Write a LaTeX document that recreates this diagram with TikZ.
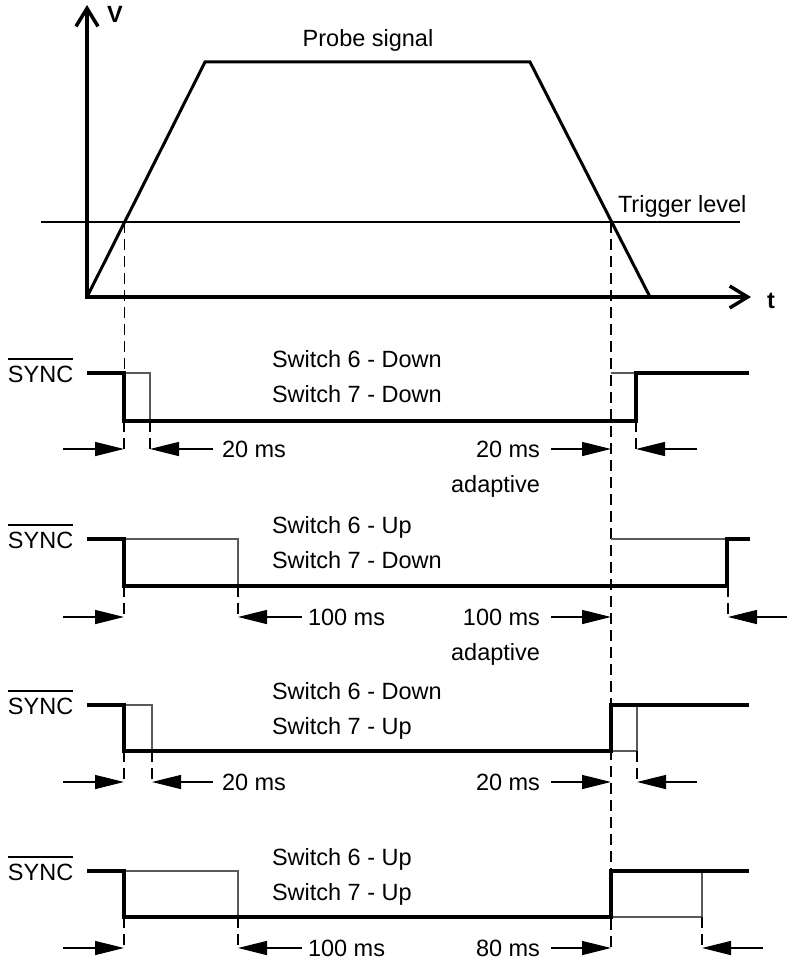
\documentclass[tikz,border=0pt]{standalone}
\usepackage{fontspec}
\setmainfont{Liberation Sans}
\usetikzlibrary{arrows.meta}
\begin{document}
\begin{tikzpicture}[x=1pt,y=-1pt,
  every node/.style={inner sep=0pt,outer sep=0pt,font=\fontsize{23.5}{28}\selectfont},
  axisline/.style={line width=4pt,-{Straight Barb[length=18pt,width=22pt,line width=3.5pt]}},
  probeline/.style={line width=3pt,line join=miter},
  thinline/.style={line width=1.3pt},
  boxline/.style={line width=1.1pt,black!65},
  sigline/.style={line width=3.5pt,line join=miter},
  dsh/.style={line width=1.5pt,dash pattern=on 11pt off 6pt},
  dimarr/.style={line width=1.3pt,-{Triangle[length=29pt,width=14pt]}},
  ovl/.style={line width=1.3pt},
  lbl/.style={anchor=base west},
  rlbl/.style={anchor=base east}]
\fill[white] (0,0) rectangle (787,960);
\useasboundingbox (0,0) rectangle (787,960);

% ---------- probe signal plot ----------
\coordinate (O) at (87,297);
\coordinate (Vtop) at (87,5);
\coordinate (Tend) at (751,297);
\coordinate (P1) at (205,62);
\coordinate (P2) at (530,62);
\coordinate (P3) at (650,297);
\coordinate (TL1) at (41,222);
\coordinate (TL2) at (740,222);
\coordinate (X1) at (124.5,222);
\coordinate (X2) at (611,222);

\draw[thinline] (TL1) -- (TL2);
\draw[probeline] (O) -- (P1) -- (P2) -- (P3);
\draw[axisline,line cap=rect] (O) -- (Vtop);
\draw[axisline,line cap=rect] (O) -- (Tend);

\node[anchor=base,font=\fontsize{23.5}{28}\selectfont\bfseries] (V) at (115,23) {V};
\node[anchor=base,font=\fontsize{23.5}{28}\selectfont\bfseries] (t) at (771,308) {t};
\node[anchor=base] (probe) at (368,47) {Probe signal};
\node[lbl] (trig) at (618,212) {Trigger level};

% long dashed markers
\coordinate (D1a) at (124.5,373);
\coordinate (D2b) at (611,948);
\draw[dsh] (X1) -- (D1a);
\draw[dsh] (X2) -- (D2b);

% ---------- row 1 : Switch 6 Down, Switch 7 Down ----------
\draw[boxline] (124,373) -- (150,373) -- (150,421);
\draw[boxline] (611,373) -- (636,373);
\draw[dsh] (124,421) -- (124,449);
\draw[dsh] (150,421) -- (150,449);
\draw[dsh] (636,421) -- (636,449);
\draw[sigline] (87,373) -- (124,373) -- (124,421) -- (636,421) -- (636,373) -- (749,373);
\path (63,449) coordinate (r1a) (124,449) coordinate (r1b) (213,449) coordinate (r1c)
      (150,449) coordinate (r1d) (551,449) coordinate (r1e) (611,449) coordinate (r1f)
      (697,449) coordinate (r1g) (636,449) coordinate (r1h);
\draw[dimarr] (r1a) -- (r1b);
\draw[dimarr] (r1c) -- (r1d);
\draw[dimarr] (r1e) -- (r1f);
\draw[dimarr] (r1g) -- (r1h);
\node[lbl] (s1) at (8,382) {SYNC};
\draw[ovl] ([yshift=6.5pt]s1.north west) -- ([yshift=6.5pt]s1.north east);
\node[lbl] (w1a) at (272,367) {Switch 6 - Down};
\node[lbl] (w1b) at (272,402) {Switch 7 - Down};
\node[lbl] (m1a) at (222,457) {20 ms};
\node[rlbl] (m1b) at (540,457) {20 ms};
\node[rlbl] (ad1) at (540,492) {adaptive};

% ---------- row 2 : Switch 6 Up, Switch 7 Down ----------
\draw[boxline] (124,539) -- (238,539) -- (238,586);
\draw[boxline] (611,539) -- (727,539);
\draw[dsh] (124,586) -- (124,617);
\draw[dsh] (238,586) -- (238,617);
\draw[dsh] (728,586) -- (728,617);
\draw[sigline] (87,539) -- (124,539) -- (124,586) -- (727,586) -- (727,539) -- (750,539);
\path (63,617) coordinate (r2a) (124,617) coordinate (r2b) (302,617) coordinate (r2c)
      (238,617) coordinate (r2d) (551,617) coordinate (r2e) (611,617) coordinate (r2f)
      (787,617) coordinate (r2g) (728,617) coordinate (r2h);
\draw[dimarr] (r2a) -- (r2b);
\draw[dimarr] (r2c) -- (r2d);
\draw[dimarr] (r2e) -- (r2f);
\draw[dimarr] (r2g) -- (r2h);
\node[lbl] (s2) at (8,548) {SYNC};
\draw[ovl] ([yshift=6.5pt]s2.north west) -- ([yshift=6.5pt]s2.north east);
\node[lbl] (w2a) at (272,533) {Switch 6 - Up};
\node[lbl] (w2b) at (272,568) {Switch 7 - Down};
\node[lbl] (m2a) at (308,625) {100 ms};
\node[rlbl] (m2b) at (540,625) {100 ms};
\node[rlbl] (ad2) at (540,660) {adaptive};

% ---------- row 3 : Switch 6 Down, Switch 7 Up ----------
\draw[boxline] (124,705) -- (152,705) -- (152,751);
\draw[boxline] (611,751) -- (637,751) -- (637,705);
\draw[dsh] (124,751) -- (124,782);
\draw[dsh] (152,751) -- (152,782);
\draw[dsh] (637,751) -- (637,782);
\draw[sigline] (87,705) -- (124,705) -- (124,751) -- (611,751) -- (611,705) -- (749,705);
\path (63,782) coordinate (r3a) (124,782) coordinate (r3b) (213,782) coordinate (r3c)
      (152,782) coordinate (r3d) (551,782) coordinate (r3e) (611,782) coordinate (r3f)
      (697,782) coordinate (r3g) (637,782) coordinate (r3h);
\draw[dimarr] (r3a) -- (r3b);
\draw[dimarr] (r3c) -- (r3d);
\draw[dimarr] (r3e) -- (r3f);
\draw[dimarr] (r3g) -- (r3h);
\node[lbl] (s3) at (8,714) {SYNC};
\draw[ovl] ([yshift=6.5pt]s3.north west) -- ([yshift=6.5pt]s3.north east);
\node[lbl] (w3a) at (272,699) {Switch 6 - Down};
\node[lbl] (w3b) at (272,734) {Switch 7 - Up};
\node[lbl] (m3a) at (222,790) {20 ms};
\node[rlbl] (m3b) at (540,790) {20 ms};

% ---------- row 4 : Switch 6 Up, Switch 7 Up ----------
\draw[boxline] (124,871) -- (238,871) -- (238,917);
\draw[boxline] (611,917) -- (702,917) -- (702,871);
\draw[dsh] (124,917) -- (124,948);
\draw[dsh] (238,917) -- (238,948);
\draw[dsh] (702,917) -- (702,948);
\draw[sigline] (87,871) -- (124,871) -- (124,917) -- (611,917) -- (611,871) -- (749,871);
\path (63,948) coordinate (r4a) (124,948) coordinate (r4b) (302,948) coordinate (r4c)
      (238,948) coordinate (r4d) (551,948) coordinate (r4e) (611,948) coordinate (r4f)
      (763,948) coordinate (r4g) (702,948) coordinate (r4h);
\draw[dimarr] (r4a) -- (r4b);
\draw[dimarr] (r4c) -- (r4d);
\draw[dimarr] (r4e) -- (r4f);
\draw[dimarr] (r4g) -- (r4h);
\node[lbl] (s4) at (8,880) {SYNC};
\draw[ovl] ([yshift=6.5pt]s4.north west) -- ([yshift=6.5pt]s4.north east);
\node[lbl] (w4a) at (272,865) {Switch 6 - Up};
\node[lbl] (w4b) at (272,900) {Switch 7 - Up};
\node[lbl] (m4a) at (308,956) {100 ms};
\node[rlbl] (m4b) at (540,956) {80 ms};
\end{tikzpicture}
\end{document}
